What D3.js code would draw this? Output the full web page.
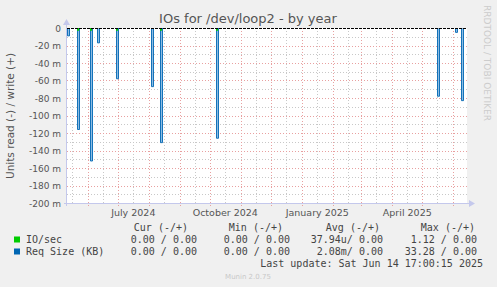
<!DOCTYPE html>
<html lang="en">
<head>
<meta charset="UTF-8">
<script src="https://d3js.org/d3.v7.min.js"></script>
<style>
  body { margin: 0; background: #f0f0f0; }
  #plot { position: absolute; left: 0; top: 0; width: 497px; height: 287px; }
</style>
</head>
<body>
<div id="plot"></div>
<script>
// read (-) spikes, daily averages
const reqDates = ["2024-05-11", "2024-05-21", "2024-06-03", "2024-06-10", "2024-06-29",
                  "2024-08-03", "2024-08-12", "2024-10-07", "2025-05-16", "2025-06-03", "2025-06-09"];
const reqValues = [-0.009, -0.116, -0.152, -0.017, -0.058, -0.067, -0.131, -0.126, -0.078, -0.005, -0.083];
const ioDates = ["2024-05-21", "2024-06-03", "2024-06-29", "2024-08-12", "2024-10-07"];
const ioValues = [-0.003, -0.003, -0.003, -0.003, -0.003];

const yTicks = [0, -0.02, -0.04, -0.06, -0.08, -0.1, -0.12, -0.14, -0.16, -0.18, -0.2];
const monthLabels = ["July 2024", "October 2024", "January 2025", "April 2025"];
const monthLabelDates = ["2024-07-01", "2024-10-01", "2025-01-01", "2025-04-01"];

const legendHead = ["Cur (-/+)", "Min (-/+)", "Avg (-/+)", "Max (-/+)"];
const legendRows = [
  {name: "IO/sec", color: "#00cc00", vals: ["0.00 / 0.00", "0.00 / 0.00", "37.94u/ 0.00", "1.12 / 0.00"]},
  {name: "Req Size (KB)", color: "#0066b3", vals: ["0.00 / 0.00", "0.00 / 0.00", "2.08m/ 0.00", "33.28 / 0.00"]}
];

const W = 497, H = 287;
const pLeft = 67, pRight = 467, pTop = 28, pBottom = 203;
const parse = d3.timeParse("%Y-%m-%d");
const tStart = new Date(2024, 4, 10, 17, 0), tEnd = new Date(2025, 5, 14, 17, 0);

const x = d3.scaleTime().domain([tStart, tEnd]).range([pLeft, pRight]);
const y = d3.scaleLinear().domain([-0.2, 0]).range([pBottom, pTop]);

const svg = d3.select("#plot").append("svg")
  .attr("width", W).attr("height", H)
  .style("font-family", "'DejaVu Sans', sans-serif");

svg.append("rect").attr("width", W).attr("height", H).attr("fill", "#f0f0f0");
svg.append("rect").attr("x", pLeft).attr("y", pTop).attr("width", pRight - pLeft).attr("height", pBottom - pTop)
  .attr("fill", "#ffffff");

// grid
const majorX = d3.timeMonth.range(tStart, tEnd);
const minorX = [d3.timeMonth.floor(tStart)].concat(majorX).map(d => d3.timeDay.offset(d, 15))
  .filter(d => d > tStart && d < tEnd);
const g = svg.append("g").attr("shape-rendering", "crispEdges");
g.selectAll(".mny").data(d3.range(1, 20, 2).map(i => -0.01 * i)).join("line")
  .attr("x1", pLeft).attr("x2", pRight).attr("y1", d => Math.round(y(d)) + 0.5).attr("y2", d => Math.round(y(d)) + 0.5)
  .attr("stroke", "#c8c8c8").attr("stroke-dasharray", "1,2");
g.selectAll(".mnx").data(minorX).join("line")
  .attr("x1", d => Math.round(x(d)) + 0.5).attr("x2", d => Math.round(x(d)) + 0.5)
  .attr("y1", pTop).attr("y2", pBottom + 2)
  .attr("stroke", "#c8c8c8").attr("stroke-dasharray", "1,2");
g.selectAll(".mjy").data(yTicks.slice(1, -1)).join("line")
  .attr("x1", pLeft).attr("x2", pRight).attr("y1", d => Math.round(y(d)) + 0.5).attr("y2", d => Math.round(y(d)) + 0.5)
  .attr("stroke", "#e8a0a0").attr("stroke-dasharray", "1,2");
g.selectAll(".mjx").data(majorX).join("line")
  .attr("x1", d => Math.round(x(d)) + 0.5).attr("x2", d => Math.round(x(d)) + 0.5)
  .attr("y1", pTop).attr("y2", pBottom + 3)
  .attr("stroke", "#e8a0a0").attr("stroke-dasharray", "1,2");

// spikes
const y0 = y(0);
const spike = d3.line();
svg.append("g").selectAll("path").data(reqDates.map((d, i) => [parse(d), reqValues[i]])).join("path")
  .attr("d", ([d, v]) => {
    const xa = Math.round(x(d)) + 0.5, xb = Math.round(x(d3.timeDay.offset(d, 2))) + 0.5;
    return spike([[xa, y0], [xa, y(v)], [xb, y(v)], [xb, y0]]);
  })
  .attr("fill", "#8dbbe2").attr("stroke", "#0066b3").attr("stroke-width", 0.9);

svg.append("g").selectAll("line").data(ioDates.map((d, i) => [parse(d), ioValues[i]])).join("line")
  .attr("x1", ([d]) => Math.round(x(d)) + 1).attr("x2", ([d]) => Math.round(x(d)) + 1)
  .attr("y1", y0).attr("y2", ([, v]) => y(v))
  .attr("stroke", "#00cc00").attr("stroke-width", 2);

// zero line
svg.append("line").attr("x1", pLeft).attr("x2", pRight).attr("y1", y0 + 0.5).attr("y2", y0 + 0.5)
  .attr("stroke", "#000").attr("stroke-dasharray", "3,1");

// axes
const axisCol = "#c4c8ec";
svg.append("line").attr("x1", pLeft - 0.5).attr("x2", pLeft - 0.5).attr("y1", 24).attr("y2", pBottom + 3)
  .attr("stroke", axisCol);
svg.append("line").attr("x1", pLeft - 3).attr("x2", pRight + 4).attr("y1", pBottom + 0.5).attr("y2", pBottom + 0.5)
  .attr("stroke", axisCol);
svg.append("path").attr("d", `M${pLeft - 4},25L${pLeft - 0.5},19L${pLeft + 3},25Z`).attr("fill", axisCol);
svg.append("path").attr("d", `M${pRight + 2},${pBottom - 3}L${pRight + 8},${pBottom + 0.5}L${pRight + 2},${pBottom + 4}Z`).attr("fill", axisCol);

// y tick labels
svg.append("g").selectAll("text").data(yTicks).join("text")
  .attr("x", 61).attr("y", d => y(d) + 3.5)
  .attr("text-anchor", "end").attr("font-size", 9).attr("fill", "#555")
  .text(d => d === 0 ? "0" : `${Math.round(d * 1000)} m`);

// x labels
svg.append("g").selectAll("text").data(monthLabelDates).join("text")
  .attr("x", d => x(d3.timeDay.offset(parse(d), 15))).attr("y", 216)
  .attr("text-anchor", "middle").attr("font-size", 9.5).attr("fill", "#555")
  .text((d, i) => monthLabels[i]);

// title and side texts
svg.append("text").attr("x", 248).attr("y", 23).attr("text-anchor", "middle")
  .attr("font-size", 13).attr("fill", "#555").text("IOs for /dev/loop2 - by year");
svg.append("text").attr("transform", "translate(14,116) rotate(-90)").attr("text-anchor", "middle")
  .attr("font-size", 10.5).attr("fill", "#555").text("Units read (-) / write (+)");
svg.append("text").attr("transform", "translate(484,5) rotate(90)").attr("text-anchor", "start")
  .attr("font-size", 9).attr("fill", "#cccccc").text("RRDTOOL / TOBI OETIKER");

// legend
const mono = "'DejaVu Sans Mono', monospace";
const colEnds = [197, 290, 383, 477];
const headEnds = [188, 283, 380, 475];
svg.append("g").selectAll("text").data(legendHead).join("text")
  .attr("x", (d, i) => headEnds[i]).attr("y", 231).attr("text-anchor", "end")
  .attr("font-family", mono).attr("font-size", 10).attr("fill", "#444").text(d => d);
legendRows.forEach((r, ri) => {
  const yy = 243 + ri * 12;
  svg.append("rect").attr("x", 14).attr("y", yy - 6.5).attr("width", 6).attr("height", 6).attr("fill", r.color);
  svg.append("text").attr("x", 26).attr("y", yy).attr("font-family", mono).attr("font-size", 10)
    .attr("fill", "#444").text(r.name);
  r.vals.forEach((v, i) => {
    svg.append("text").attr("x", colEnds[i]).attr("y", yy).attr("text-anchor", "end")
      .attr("font-family", mono).attr("font-size", 10).attr("fill", "#444").text(v);
  });
});
svg.append("text").attr("x", 483).attr("y", 267).attr("text-anchor", "end")
  .attr("font-family", mono).attr("font-size", 10).attr("fill", "#444")
  .text("Last update: Sat Jun 14 17:00:15 2025");
svg.append("text").attr("x", 248).attr("y", 279).attr("text-anchor", "middle")
  .attr("font-size", 7).attr("fill", "#c8c8c8").text("Munin 2.0.75");
</script>
</body>
</html>
